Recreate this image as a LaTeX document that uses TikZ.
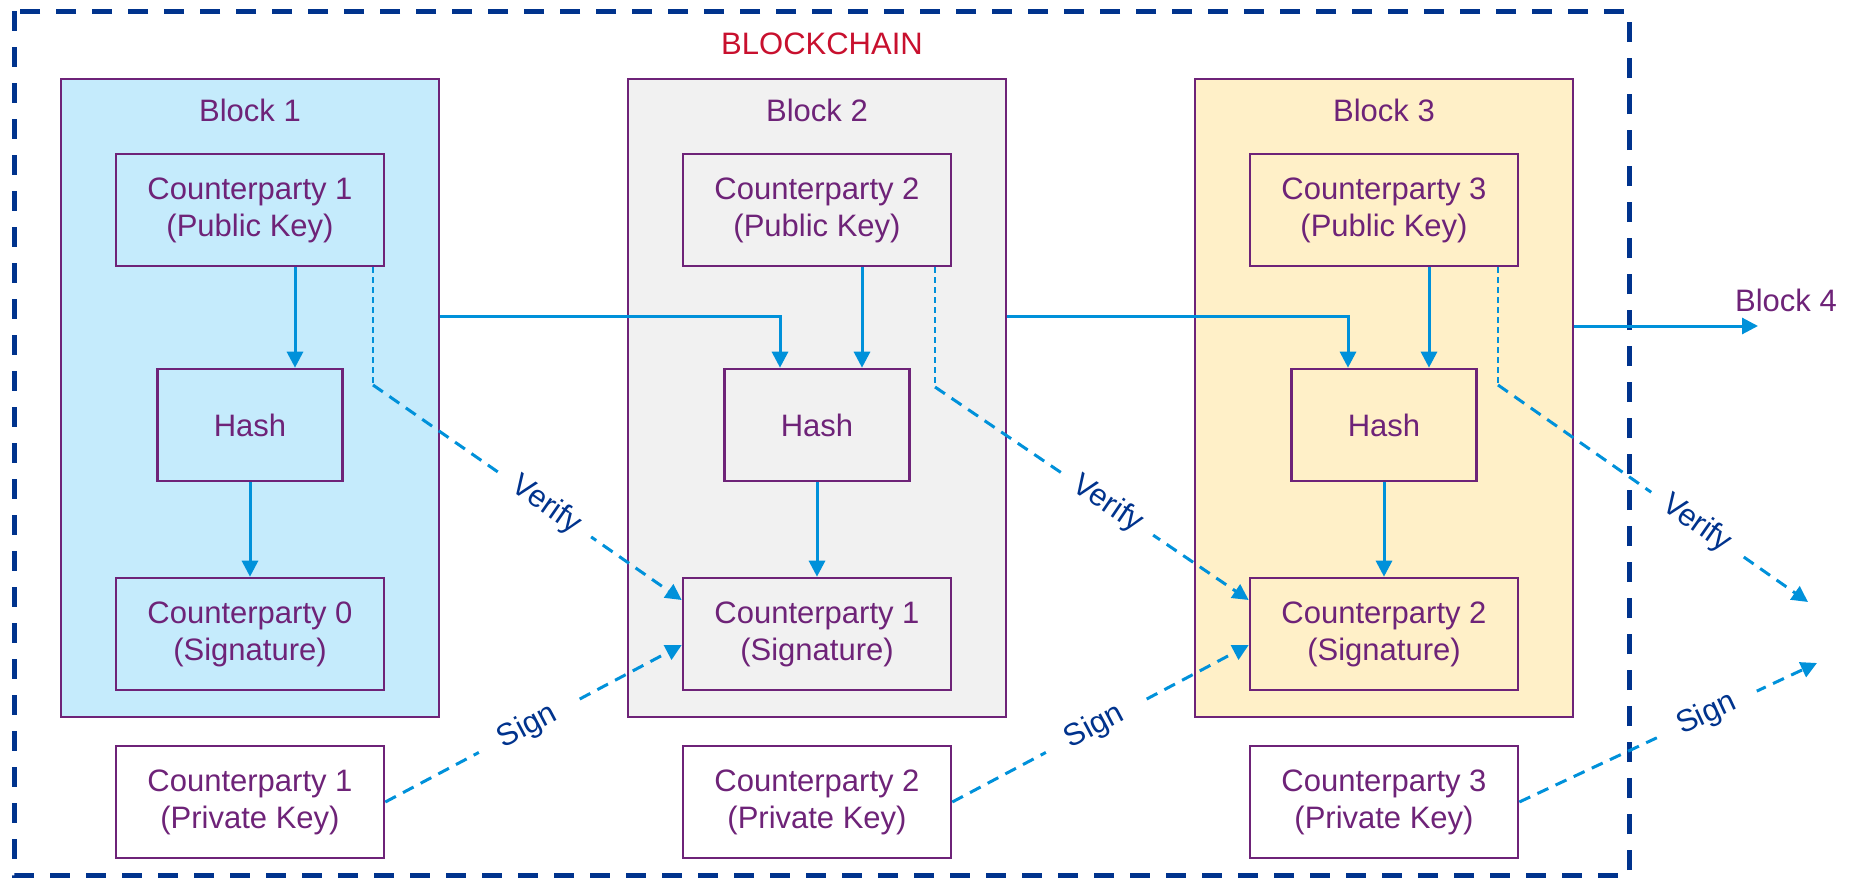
\documentclass[tikz,border=0pt]{standalone}
\usepackage{fontspec}
\setmainfont{Liberation Sans}
\usetikzlibrary{arrows.meta}

\definecolor{morado}{HTML}{6E2378}
\definecolor{azulflecha}{HTML}{0091DA}
\definecolor{marino}{HTML}{00338D}
\definecolor{carmesi}{HTML}{C8102E}
\definecolor{celeste}{HTML}{C5EBFC}
\definecolor{gris}{HTML}{F1F1F1}
\definecolor{crema}{HTML}{FFF0C8}

\tikzset{
  bloque/.style={draw=morado, line width=1.3pt, minimum width=189pt, minimum height=319pt, inner sep=0pt},
  caja/.style={draw=morado, line width=1.3pt, minimum width=134pt, minimum height=56pt, inner sep=0pt, align=center, text=morado},
  cajahash/.style={caja, minimum width=92.5pt},
  texto/.style={text=morado},
  flecha/.style={draw=azulflecha, line width=1.5pt, -{Triangle[length=8pt,width=8pt]}},
  punteado/.style={draw=azulflecha, line width=0.8pt, dash pattern=on 3pt off 2pt},
  firma/.style={draw=azulflecha, line width=1.5pt, dash pattern=on 6pt off 4pt, -{Triangle[length=8pt,width=8pt]}},
  etiq/.style={fill=white, text=marino, sloped, minimum width=55pt, inner sep=1pt},
}

\begin{document}
\begin{tikzpicture}[x=0.5pt, y=-0.5pt, font=\fontsize{15.5}{18.5}\selectfont]
\useasboundingbox (0,0) rectangle (1854,878);

% Cadena
\draw [marino, line width=2.5pt, dash pattern=on 10pt off 8pt] (14,11) rectangle (1629,875);
\node [text=carmesi] (cadena) at (822,44) {BLOCKCHAIN};

% Bloque 1
\node [bloque, fill=celeste] (b1) at (250,398) {};
\node [texto] (t1) at (250,110) {Block 1};
\node [caja] (p1) at (250,210) {Counterparty 1\\(Public Key)};
\node [cajahash] (h1) at (250,425) {Hash};
\node [caja] (s1) at (250,634) {Counterparty 0\\(Signature)};
\node [caja] (k1) at (250,802) {Counterparty 1\\(Private Key)};

% Bloque 2
\node [bloque, fill=gris] (b2) at (817,398) {};
\node [texto] (t2) at (817,110) {Block 2};
\node [caja] (p2) at (817,210) {Counterparty 2\\(Public Key)};
\node [cajahash] (h2) at (817,425) {Hash};
\node [caja] (s2) at (817,634) {Counterparty 1\\(Signature)};
\node [caja] (k2) at (817,802) {Counterparty 2\\(Private Key)};

% Bloque 3
\node [bloque, fill=crema] (b3) at (1384,398) {};
\node [texto] (t3) at (1384,110) {Block 3};
\node [caja] (p3) at (1384,210) {Counterparty 3\\(Public Key)};
\node [cajahash] (h3) at (1384,425) {Hash};
\node [caja] (s3) at (1384,634) {Counterparty 2\\(Signature)};
\node [caja] (k3) at (1384,802) {Counterparty 3\\(Private Key)};

% Bloque 4 (solo etiqueta)
\node [texto] (t4) at (1786,300) {Block 4};
\coordinate (f4) at (1758,326);

% Flechas dentro de cada bloque
\draw [flecha] ([xshift=22.5pt]p1.south) -- ([xshift=22.5pt]h1.north);
\draw [flecha] (h1) -- (s1);
\draw [flecha] ([xshift=22.5pt]p2.south) -- ([xshift=22.5pt]h2.north);
\draw [flecha] (h2) -- (s2);
\draw [flecha] ([xshift=22.5pt]p3.south) -- ([xshift=22.5pt]h3.north);
\draw [flecha] (h3) -- (s3);

% Enlaces entre bloques
\draw [flecha] ([yshift=41pt]b1.east) -| ([xshift=-18.5pt]h2.north);
\draw [flecha] ([yshift=41pt]b2.east) -| ([xshift=-18pt]h3.north);
\draw [flecha] ([yshift=36pt]b3.east) -- (f4);

% Verify
\coordinate (v1) at (373,385);
\coordinate (v2) at (935,387);
\coordinate (v3) at (1498,385);
\coordinate (v4) at (1808,602);
\draw [punteado] ([xshift=61.5pt]p1.south) -- (v1);
\draw [punteado] ([xshift=59pt]p2.south) -- (v2);
\draw [punteado] ([xshift=57pt]p3.south) -- (v3);
\draw [firma] (v1) -- node [etiq, pos=0.56] {Verify} ([yshift=17pt]s2.west);
\draw [firma] (v2) -- node [etiq, pos=0.55] {Verify} ([yshift=17pt]s3.west);
\draw [firma] (v3) -- node [etiq, pos=0.64] {Verify} (v4);

% Sign
\coordinate (g4) at (1817,663);
\draw [firma] (k1.east) -- node [etiq, pos=0.48] {Sign} ([yshift=-5.5pt]s2.west);
\draw [firma] (k2.east) -- node [etiq, pos=0.48] {Sign} ([yshift=-5.5pt]s3.west);
\draw [firma] (k3.east) -- node [etiq, pos=0.63] {Sign} (g4);
\end{tikzpicture}
\end{document}
